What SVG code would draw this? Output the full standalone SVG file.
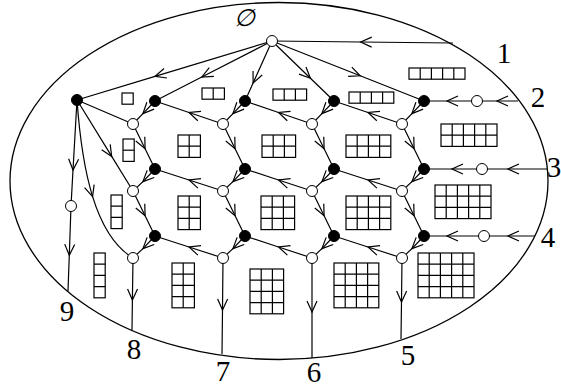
<svg xmlns="http://www.w3.org/2000/svg" width="561" height="388" viewBox="0 0 561 388">
<style>
.e{fill:none;stroke:#000;stroke-width:1.2;marker-mid:url(#a)}
.p{fill:none;stroke:#000;stroke-width:1.2}
.b{fill:#000;stroke:#000;stroke-width:1}
.o{fill:#fff;stroke:#000;stroke-width:1}
.g{fill:none;stroke:#000;stroke-width:1.2}
.t{font-family:"Liberation Serif","Times New Roman",serif;font-size:29px;text-anchor:middle;fill:#000}
</style>
<defs>
<marker id="a" markerUnits="userSpaceOnUse" markerWidth="30" markerHeight="30" viewBox="-15 -15 30 30" refX="0" refY="0" orient="auto">
<path d="M-11,-5 L0,0 L-11,5" fill="none" stroke="#000" stroke-width="1.2"/>
</marker>
</defs>
<rect width="561" height="388" fill="#fff"/>
<ellipse id="boundary" cx="279" cy="181" rx="269" ry="178.5" fill="none" stroke="#000" stroke-width="1.3"/>
<g id="connectors">
<path class="e" d="M272,41 L155,76.4 L77,100"/>
<path class="e" d="M272,41 L201.8,77 L155,101"/>
<path class="e" d="M272,41 L253.1,83 L245,101"/>
<path class="e" d="M272,41 L310.4,78.2 L334,101"/>
<path class="e" d="M272,41 L360.2,75.8 L424,101"/>
<path class="e" d="M453,43 L360.7,42 L272,41"/>
<path class="p" d="M77,100 L133,124"/>
<path class="e" d="M77,100 L111.7,156.4 L133,191"/>
<path class="e" d="M77,100 C79.5,135 84,168.75 92.6,196.6 C101.25,224.5 114,246.5 133,258"/>
<path class="e" d="M77,100 L73,170 L71,206"/>
<path class="e" d="M71,206 L69.3,255.3 L68,291"/>
<path class="e" d="M155,101 L142.9,113.65 L133,124"/>
<path class="e" d="M245,101 L232.9,113.65 L223,124"/>
<path class="e" d="M334,101 L321.9,113.65 L312,124"/>
<path class="e" d="M424,101 L411.9,113.65 L402,124"/>
<path class="e" d="M155,169 L142.9,181.65 L133,191"/>
<path class="e" d="M245,169 L232.9,181.65 L223,191"/>
<path class="e" d="M334,169 L321.9,181.65 L312,191"/>
<path class="e" d="M424,169 L411.9,181.65 L402,191"/>
<path class="e" d="M155,236 L142.9,248.65 L133,258"/>
<path class="e" d="M245,236 L232.9,248.65 L223,258"/>
<path class="e" d="M334,236 L321.9,248.65 L312,258"/>
<path class="e" d="M424,236 L411.9,248.65 L402,258"/>
<path class="e" d="M223,124 L189,112.5 L155,101"/>
<path class="e" d="M312,124 L278.5,112.5 L245,101"/>
<path class="e" d="M402,124 L368,112.5 L334,101"/>
<path class="e" d="M223,191 L189,180 L155,169"/>
<path class="e" d="M312,191 L278.5,180 L245,169"/>
<path class="e" d="M402,191 L368,180 L334,169"/>
<path class="e" d="M223,258 L189,247 L155,236"/>
<path class="e" d="M312,258 L278.5,247 L245,236"/>
<path class="e" d="M402,258 L368,247 L334,236"/>
<path class="e" d="M133,124 L145.1,148.75 L155,169"/>
<path class="e" d="M223,124 L235.1,148.75 L245,169"/>
<path class="e" d="M312,124 L324.1,148.75 L334,169"/>
<path class="e" d="M402,124 L414.1,148.75 L424,169"/>
<path class="e" d="M133,191 L145.1,215.75 L155,236"/>
<path class="e" d="M223,191 L235.1,215.75 L245,236"/>
<path class="e" d="M312,191 L324.1,215.75 L334,236"/>
<path class="e" d="M402,191 L414.1,215.75 L424,236"/>
<path class="e" d="M518,101 L497,101 L477,101"/>
<path class="e" d="M477,101 L447,101 L424,101"/>
<path class="e" d="M547,169 L508,169 L482,169"/>
<path class="e" d="M482,169 L452,169 L424,169"/>
<path class="e" d="M535,236 L508,236 L484,236"/>
<path class="e" d="M484,236 L447,236 L424,236"/>
<path class="e" d="M133,258 L132.4,300 L132,330"/>
<path class="e" d="M223,258 L222.5,310 L222,354"/>
<path class="e" d="M312,258 L312,312 L312,358"/>
<path class="e" d="M402,258 L401.5,302 L401,339"/>
</g>
<g id="n-top"><circle class="o" cx="272" cy="41" r="5.5"/></g>
<g id="n-left"><circle class="b" cx="77" cy="100" r="5.5"/></g>
<g id="n-left-open"><circle class="o" cx="71" cy="206" r="5.5"/></g>
<g id="n-b00"><circle class="b" cx="155" cy="101" r="5.5"/></g>
<g id="n-b01"><circle class="b" cx="245" cy="101" r="5.5"/></g>
<g id="n-b02"><circle class="b" cx="334" cy="101" r="5.5"/></g>
<g id="n-b03"><circle class="b" cx="424" cy="101" r="5.5"/></g>
<g id="n-b10"><circle class="b" cx="155" cy="169" r="5.5"/></g>
<g id="n-b11"><circle class="b" cx="245" cy="169" r="5.5"/></g>
<g id="n-b12"><circle class="b" cx="334" cy="169" r="5.5"/></g>
<g id="n-b13"><circle class="b" cx="424" cy="169" r="5.5"/></g>
<g id="n-b20"><circle class="b" cx="155" cy="236" r="5.5"/></g>
<g id="n-b21"><circle class="b" cx="245" cy="236" r="5.5"/></g>
<g id="n-b22"><circle class="b" cx="334" cy="236" r="5.5"/></g>
<g id="n-b23"><circle class="b" cx="424" cy="236" r="5.5"/></g>
<g id="n-o00"><circle class="o" cx="133" cy="124" r="5.5"/></g>
<g id="n-o01"><circle class="o" cx="223" cy="124" r="5.5"/></g>
<g id="n-o02"><circle class="o" cx="312" cy="124" r="5.5"/></g>
<g id="n-o03"><circle class="o" cx="402" cy="124" r="5.5"/></g>
<g id="n-o10"><circle class="o" cx="133" cy="191" r="5.5"/></g>
<g id="n-o11"><circle class="o" cx="223" cy="191" r="5.5"/></g>
<g id="n-o12"><circle class="o" cx="312" cy="191" r="5.5"/></g>
<g id="n-o13"><circle class="o" cx="402" cy="191" r="5.5"/></g>
<g id="n-o20"><circle class="o" cx="133" cy="258" r="5.5"/></g>
<g id="n-o21"><circle class="o" cx="223" cy="258" r="5.5"/></g>
<g id="n-o22"><circle class="o" cx="312" cy="258" r="5.5"/></g>
<g id="n-o23"><circle class="o" cx="402" cy="258" r="5.5"/></g>
<g id="n-r1"><circle class="o" cx="477" cy="101" r="5.5"/></g>
<g id="n-r2"><circle class="o" cx="482" cy="169" r="5.5"/></g>
<g id="n-r3"><circle class="o" cx="484" cy="236" r="5.5"/></g>
<g id="diagrams" class="g">
<rect x="122" y="93" width="11.2" height="11.2"/>
<rect x="202" y="88" width="22.4" height="11.2"/><path d="M213.2,88v11.2"/>
<rect x="273" y="89" width="33.6" height="11.2"/><path d="M284.2,89v11.2M295.4,89v11.2"/>
<rect x="349" y="92" width="44.8" height="11.2"/><path d="M360.2,92v11.2M371.4,92v11.2M382.6,92v11.2"/>
<rect x="409" y="68" width="56" height="11.2"/><path d="M420.2,68v11.2M431.4,68v11.2M442.6,68v11.2M453.8,68v11.2"/>
<rect x="123" y="139" width="11.2" height="22.4"/><path d="M123,150.2h11.2"/>
<rect x="178" y="135" width="22.4" height="22.4"/><path d="M189.2,135v22.4M178,146.2h22.4"/>
<rect x="262" y="135" width="33.6" height="22.4"/><path d="M273.2,135v22.4M284.4,135v22.4M262,146.2h33.6"/>
<rect x="346" y="135" width="44.8" height="22.4"/><path d="M357.2,135v22.4M368.4,135v22.4M379.6,135v22.4M346,146.2h44.8"/>
<rect x="441" y="124" width="56" height="22.4"/><path d="M452.2,124v22.4M463.4,124v22.4M474.6,124v22.4M485.8,124v22.4M441,135.2h56"/>
<rect x="111" y="195" width="11.2" height="33.6"/><path d="M111,206.2h11.2M111,217.4h11.2"/>
<rect x="178" y="196" width="22.4" height="33.6"/><path d="M189.2,196v33.6M178,207.2h22.4M178,218.4h22.4"/>
<rect x="261" y="196" width="33.6" height="33.6"/><path d="M272.2,196v33.6M283.4,196v33.6M261,207.2h33.6M261,218.4h33.6"/>
<rect x="346" y="196" width="44.8" height="33.6"/><path d="M357.2,196v33.6M368.4,196v33.6M379.6,196v33.6M346,207.2h44.8M346,218.4h44.8"/>
<rect x="435" y="185" width="56" height="33.6"/><path d="M446.2,185v33.6M457.4,185v33.6M468.6,185v33.6M479.8,185v33.6M435,196.2h56M435,207.4h56"/>
<rect x="94" y="253" width="11.2" height="44.8"/><path d="M94,264.2h11.2M94,275.4h11.2M94,286.6h11.2"/>
<rect x="172" y="263" width="22.4" height="44.8"/><path d="M183.2,263v44.8M172,274.2h22.4M172,285.4h22.4M172,296.6h22.4"/>
<rect x="250" y="269" width="33.6" height="44.8"/><path d="M261.2,269v44.8M272.4,269v44.8M250,280.2h33.6M250,291.4h33.6M250,302.6h33.6"/>
<rect x="334" y="263" width="44.8" height="44.8"/><path d="M345.2,263v44.8M356.4,263v44.8M367.6,263v44.8M334,274.2h44.8M334,285.4h44.8M334,296.6h44.8"/>
<rect x="418" y="253" width="56" height="44.8"/><path d="M429.2,253v44.8M440.4,253v44.8M451.6,253v44.8M462.8,253v44.8M418,264.2h56M418,275.4h56M418,286.6h56"/>
</g>
<g id="labels">
<text class="t" x="244" y="26" style="font-style:italic;font-size:24px">∅</text>
<text class="t" x="504" y="63">1</text>
<text class="t" x="538" y="107">2</text>
<text class="t" x="554" y="177">3</text>
<text class="t" x="548" y="247">4</text>
<text class="t" x="408" y="365">5</text>
<text class="t" x="314" y="382">6</text>
<text class="t" x="223" y="381">7</text>
<text class="t" x="134" y="359">8</text>
<text class="t" x="67" y="321">9</text>
</g>
</svg>
